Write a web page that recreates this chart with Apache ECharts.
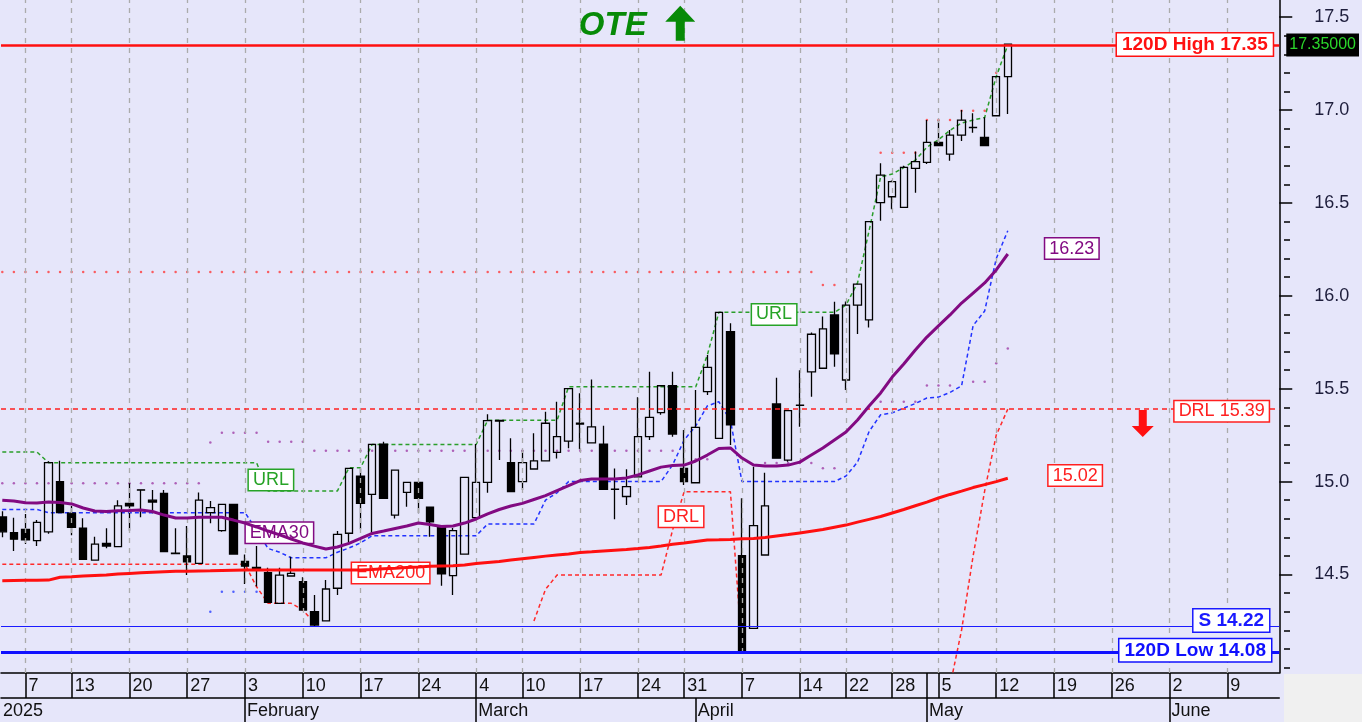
<!DOCTYPE html>
<html><head><meta charset="utf-8">
<script src="https://cdn.jsdelivr.net/npm/echarts@6/dist/echarts.min.js"></script>
<style>html,body{margin:0;padding:0;background:#E6E6FA;}#c{width:1362px;height:722px;}</style>
</head><body><div id="c"></div>
<script>
// ---- trading days (2025, Athens) ----
const dates = ['01-02','01-03','01-07','01-08','01-09','01-10','01-13','01-14','01-15','01-16','01-17','01-20','01-21','01-22','01-23','01-24','01-27','01-28','01-29','01-30','01-31',
'02-03','02-04','02-05','02-06','02-07','02-10','02-11','02-12','02-13','02-14','02-17','02-18','02-19','02-20','02-21','02-24','02-25','02-26','02-27','02-28',
'03-04','03-05','03-06','03-07','03-10','03-11','03-12','03-13','03-14','03-17','03-18','03-19','03-20','03-21','03-24','03-26','03-27','03-28','03-31',
'04-01','04-02','04-03','04-04','04-07','04-08','04-09','04-10','04-11','04-14','04-15','04-16','04-17','04-22','04-23','04-24','04-25','04-28','04-29','04-30',
'05-02','05-05','05-06','05-07','05-08','05-09','05-12','05-13','05-14','05-15','05-16','05-19','05-20','05-21','05-22','05-23','05-26','05-27','05-28','05-29','05-30',
'06-02','06-03','06-04','06-05','06-06','06-09','06-10','06-11','06-12','06-13'];
const weekTicks = ['01-07','01-13','01-20','01-27','02-03','02-10','02-17','02-24','03-04','03-10','03-17','03-24','03-31','04-07','04-14','04-22','04-28','05-05','05-12','05-19','05-26','06-02','06-09'];
const monthStarts = ['02-03','03-04','04-01','05-02','06-02'];
const monthNames = ['February','March','April','May','June'];
const yearLabel = '2025';
const yTickLabels = [14.5,15.0,15.5,16.0,16.5,17.0,17.5];
const yMinorTicks = [14.0,14.1,14.2,14.3,14.4,14.6,14.7,14.8,14.9,15.1,15.2,15.3,15.4,15.6,15.7,15.8,15.9,16.1,16.2,16.3,16.4,16.6,16.7,16.8,16.9,17.1,17.2,17.3,17.4];

// ---- OHLC ----
const open = [14.81,14.725,14.743,14.682,14.73,15.0,14.83,14.749,14.578,14.668,14.65,14.883,14.956,14.90,14.937,14.615,14.6,14.56,14.833,14.736,
14.878,14.57,14.538,14.51,14.345,14.492,14.461,14.3,14.25,14.426,14.722,15.03,14.931,15.202,14.82,14.942,14.996,14.862,14.752,14.494,
14.61,14.806,14.996,15.33,15.102,15.0,15.068,15.112,15.157,15.218,15.315,15.209,15.202,14.96,14.92,15.026,15.242,15.371,15.516,15.071,
14.994,15.484,15.233,15.807,14.601,14.21,14.605,15.418,15.116,15.412,15.591,15.61,15.897,15.547,15.95,15.87,16.501,16.533,16.476,16.686,
16.718,16.826,16.762,16.865,16.907,16.853,16.969,17.18];
const close = [14.73,14.69,14.686,14.781,15.102,14.833,14.754,14.582,14.664,14.653,14.869,14.869,14.955,14.89,14.623,14.612,14.568,14.9,14.86,14.878,
14.61,14.545,14.528,14.35,14.497,14.506,14.309,14.228,14.422,14.716,15.071,14.883,15.2,14.91,15.062,14.996,14.91,14.784,14.503,14.736,
15.023,14.996,15.328,15.326,14.946,15.102,15.112,15.314,15.242,15.5,15.31,15.295,14.958,14.958,14.973,15.242,15.346,15.516,15.256,15.0,
15.292,15.615,15.911,15.305,14.09,14.763,14.869,15.126,15.382,15.41,15.793,15.822,15.687,15.95,16.063,16.399,16.65,16.614,16.691,16.722,
16.826,16.808,16.865,16.946,16.905,16.808,17.18,17.355];
const low = [14.70,14.627,14.664,14.653,14.72,14.83,14.712,14.58,14.575,14.641,14.65,14.736,14.808,14.83,14.62,14.61,14.497,14.56,14.776,14.73,
14.61,14.449,14.435,14.35,14.345,14.49,14.309,14.22,14.25,14.39,14.671,14.743,14.725,14.91,14.802,14.865,14.83,14.703,14.44,14.39,
14.61,14.806,14.94,15.116,14.946,14.955,15.068,15.11,15.125,15.18,15.174,15.209,14.958,14.797,14.874,15.026,15.224,15.36,15.242,14.982,
14.994,15.466,15.233,15.197,14.08,14.21,14.605,15.126,15.107,15.295,15.457,15.61,15.618,15.493,15.794,15.83,16.404,16.466,16.476,16.555,
16.709,16.808,16.727,16.833,16.878,16.808,16.969,16.978];
const high = [14.84,14.806,14.826,14.793,15.11,15.112,14.869,14.803,14.703,14.749,14.9,14.991,14.958,14.955,14.955,14.749,14.761,14.942,14.896,14.88,
14.88,14.608,14.653,14.536,14.536,14.596,14.485,14.39,14.47,14.734,15.071,15.071,15.2,15.215,15.062,14.996,14.996,14.862,14.76,14.75,
15.023,15.202,15.362,15.332,15.233,15.17,15.26,15.376,15.43,15.5,15.475,15.55,15.3,15.071,15.066,15.454,15.591,15.52,15.591,15.278,
15.493,15.681,15.911,15.852,14.91,15.08,15.048,15.559,15.382,15.6,15.802,15.888,15.968,15.97,16.063,16.399,16.713,16.62,16.7,16.776,
16.946,16.946,16.892,17.0,16.982,16.961,17.18,17.355];

// ---- indicators ----
const ema30 = [14.9,14.896,14.886,14.885,14.89,14.887,14.88,14.858,14.842,14.839,14.843,14.844,14.847,14.839,14.82,14.804,14.804,14.808,14.808,14.808,
14.793,14.777,14.756,14.734,14.713,14.691,14.67,14.653,14.637,14.648,14.668,14.694,14.721,14.734,14.748,14.761,14.777,14.769,14.758,14.761,
14.777,14.799,14.826,14.85,14.869,14.883,14.904,14.925,14.952,14.979,15.006,15.014,15.014,15.014,15.02,15.036,15.057,15.078,15.087,15.089,
15.111,15.143,15.178,15.181,15.127,15.089,15.084,15.084,15.089,15.105,15.143,15.181,15.224,15.267,15.332,15.407,15.477,15.563,15.633,15.708,
15.778,15.838,15.897,15.961,16.015,16.069,16.139,16.225];
const ema200 = [14.467,14.468,14.469,14.469,14.470,14.485,14.488,14.492,14.495,14.497,14.503,14.506,14.509,14.512,14.515,14.517,14.518,14.519,14.520,14.522,
14.523,14.524,14.524,14.524,14.524,14.524,14.524,14.524,14.524,14.524,14.524,14.525,14.527,14.531,14.534,14.538,14.540,14.545,14.546,14.547,
14.551,14.559,14.565,14.570,14.578,14.585,14.592,14.599,14.605,14.611,14.618,14.622,14.627,14.631,14.635,14.640,14.646,14.653,14.663,14.670,
14.678,14.686,14.687,14.689,14.692,14.694,14.699,14.707,14.715,14.724,14.733,14.742,14.754,14.766,14.782,14.797,14.812,14.831,14.850,14.870,
14.890,14.912,14.931,14.949,14.968,14.984,15.000,15.018];
const url = [15.159,15.159,15.159,15.159,15.102,15.102,15.102,15.102,15.102,15.102,15.102,15.102,15.102,15.102,15.102,15.102,15.102,15.102,15.102,15.102,
15.102,15.102,15.102,14.95,14.95,14.95,14.95,14.95,14.95,14.95,15.075,15.075,15.2,15.2,15.2,15.2,15.2,15.2,15.2,15.2,
15.2,15.2,15.33,15.33,15.33,15.33,15.33,15.33,15.33,15.51,15.51,15.51,15.51,15.51,15.51,15.51,15.51,15.51,15.51,15.51,
15.51,15.68,15.911,15.911,15.911,15.911,15.911,15.911,15.911,15.911,15.911,15.911,15.911,15.95,16.07,16.35,16.64,16.655,16.69,16.73,
16.8,16.84,16.89,16.93,16.946,16.96,17.18,17.35];
const drl = [14.555,14.555,14.555,14.555,14.555,14.555,14.555,14.555,14.555,14.555,14.555,14.555,14.555,14.555,14.555,14.555,14.555,14.555,14.555,14.555,
14.555,14.555,14.434,14.345,14.345,14.345,14.309,14.24,null,null,null,null,null,null,null,null,null,null,null,null,
null,null,null,null,null,null,14.25,14.42,14.497,14.497,14.497,14.497,14.497,14.497,14.497,14.497,14.497,14.497,14.74,14.946,
14.946,14.946,14.946,14.946,14.1,null,null,null,null,null,null,null,null,null,null,null,null,null,null,null,
null,null,13.9,14.2,14.6,14.95,15.25,15.39];
const lowerBand = [14.85,14.85,14.85,14.85,14.833,14.833,14.833,14.833,14.833,14.833,14.833,14.833,14.833,14.833,14.833,14.833,14.833,14.833,14.833,14.833,
14.833,14.833,14.74,14.64,14.62,14.59,14.59,14.59,14.59,14.62,14.643,14.67,14.709,14.709,14.709,14.709,14.709,14.709,14.709,14.709,
14.709,14.709,14.772,14.772,14.772,14.772,14.772,14.9,14.94,15.0,15.0,15.0,15.0,15.0,15.0,15.0,15.0,15.0,15.09,15.224,
15.3,15.407,15.43,15.33,15.0,15.0,15.0,15.0,15.0,15.0,15.0,15.0,15.0,15.03,15.105,15.27,15.36,15.37,15.396,15.42,
15.45,15.455,15.48,15.515,15.84,15.918,16.2,16.35];
const purpleDots = [14.991,14.991,14.991,14.991,14.991,14.991,14.991,14.991,14.991,14.991,14.991,14.991,14.991,14.991,14.991,14.991,14.991,14.991,15.21,15.263,
15.263,15.263,15.263,15.215,15.215,15.215,15.215,15.166,15.166,15.166,15.166,15.166,15.166,15.166,15.166,15.166,15.166,15.166,15.166,15.166,
15.166,15.166,15.166,15.166,15.166,15.166,15.166,15.166,15.166,15.166,15.166,15.166,15.166,15.166,15.166,15.166,15.166,15.166,15.166,15.166,
15.12,15.12,null,null,null,null,15.1,15.1,15.1,15.1,15.1,15.072,15.072,null,null,null,15.43,15.43,15.43,15.43,
15.517,15.517,15.517,null,15.538,15.538,15.637,15.717];
const redDots = [16.128,16.128,16.128,16.128,16.128,16.128,16.128,16.128,16.128,16.128,16.128,16.128,16.128,16.128,16.128,16.128,16.128,16.128,16.128,16.128,
16.128,16.128,16.128,16.128,16.128,16.128,16.128,16.128,16.128,16.128,16.128,16.128,16.128,16.128,16.128,16.128,16.128,16.128,16.128,16.128,
16.128,16.128,16.128,16.128,16.128,16.128,16.128,16.128,16.128,16.128,16.128,16.128,16.128,16.128,16.128,16.128,16.128,16.128,16.128,16.128,
16.128,16.128,16.128,16.128,16.128,16.128,16.128,16.128,16.128,16.128,16.128,16.058,16.058,null,null,null,16.77,16.77,16.77,16.77,
16.946,16.946,16.946,16.996,16.996,16.996,17.2,null];
const blueDots = [null,null,null,null,null,null,null,null,null,null,null,null,null,null,null,null,null,null,14.3,14.407,
14.407,14.407,14.407];
const high120 = 17.35, low120 = 14.08, support = 14.22, drlLevel = 15.39, lastPrice = 17.35;

// ---- build ----
const idx = d => dates.indexOf(d);
const toXY = arr => arr.map((v,i)=>[i, v==null?'-':v]);
const candles = open.map((o,i)=>[i, o, close[i], low[i], high[i]]);
const weekIdx = weekTicks.map(idx);
const monthIdx = monthStarts.map(idx);
const X_MIN = -0.112, X_MAX = 110.49, Y_MIN = 13.970, Y_MAX = 17.592;
const FONT = 'Liberation Sans';
const PLOT_W = 1283;

function tag(coord, text, color, bold){
  return {coord, symbolSize:1, itemStyle:{color:'rgba(0,0,0,0)'},
    label:{show:true, position:'left', distance:0, formatter:text, color,
      fontFamily:FONT, fontSize: bold?19:18, fontWeight: bold?'bold':'normal', lineHeight: bold?19:18,
      backgroundColor:'#fff', borderColor:color, borderWidth:1.5, padding: bold?[2,5,1,5]:[1,4,1,4]}};
}

const chart = echarts.init(document.getElementById('c'));
chart.setOption({
  animation:false,
  backgroundColor:'#E6E6FA',
  textStyle:{fontFamily:FONT},
  grid:{left:0, top:0, width:PLOT_W, height:673},
  xAxis:[{
    type:'value', min:X_MIN, max:X_MAX, position:'bottom',
    axisLine:{show:true, onZero:false, lineStyle:{color:'#000', width:1.5}},
    axisTick:{show:true, customValues: weekIdx.concat([idx('05-02')]), length:25, lineStyle:{color:'#000', width:1.5}},
    axisLabel:{customValues: weekIdx, formatter: v => String(parseInt(dates[Math.round(v)].slice(3),10)),
      align:'left', padding:[0,0,0,3], margin:4, fontSize:18, color:'#111', fontFamily:FONT},
    splitLine:{show:false}
  },{
    type:'value', min:X_MIN, max:X_MAX, position:'bottom', offset:25,
    axisLine:{show:true, onZero:false, lineStyle:{color:'#000', width:1.5}},
    axisTick:{show:true, customValues: monthIdx, length:24, lineStyle:{color:'#000', width:1.5}},
    axisLabel:{customValues:[X_MIN].concat(monthIdx), formatter: v => { const k = monthIdx.indexOf(v); return k<0 ? yearLabel : monthNames[k]; },
      align:'left', padding:[0,0,0,2], margin:4, fontSize:18, color:'#111', fontFamily:FONT},
    splitLine:{show:false}
  }],
  yAxis:[{
    type:'value', min:Y_MIN, max:Y_MAX, position:'right',
    axisLine:{show:true, onZero:false, lineStyle:{color:'#000', width:1.5}},
    axisTick:{show:true, customValues: yTickLabels, length:13, lineStyle:{color:'#000', width:1.5}},
    axisLabel:{customValues: yTickLabels, formatter: v => v.toFixed(1), margin:35, fontSize:18, color:'#1e1e3c', fontFamily:FONT},
    splitLine:{show:false}
  },{
    // minor ticks: a left-side axis shifted onto the right edge, ticks pointing right
    type:'value', min:Y_MIN, max:Y_MAX, position:'left', offset:-PLOT_W,
    axisLine:{show:false, onZero:false},
    axisTick:{show:true, inside:true, customValues: yMinorTicks, length:6, lineStyle:{color:'#000', width:1.5}},
    axisLabel:{show:false}, splitLine:{show:false}
  },{
    type:'value', min:Y_MIN, max:Y_MAX, position:'right', offset:0,
    axisLine:{show:false, onZero:false}, axisTick:{show:false}, splitLine:{show:false},
    axisLabel:{customValues:[lastPrice], formatter: v => v.toFixed(5), margin:7, fontSize:16, color:'#2bd62b',
      backgroundColor:'#000', padding:[4,3,3,3], fontFamily:FONT}
  }],
  series:[
    {type:'line', data:[], z:1, silent:true,
     markLine:{silent:true, symbol:'none', label:{show:false},
       lineStyle:{type:[5,5], color:'#ababab', width:1.3},
       data: weekIdx.map(v=>({xAxis:v}))}},
    {type:'line', data:[], z:2, silent:true,
     markLine:{silent:true, symbol:'none', label:{show:false},
       data:[
         {yAxis:drlLevel, lineStyle:{type:[5,4], color:'#ff2020', width:1.5}},
         {yAxis:high120, lineStyle:{type:'solid', color:'#ff1010', width:2.5}},
         {yAxis:support, lineStyle:{type:'solid', color:'#1a1aff', width:1.2}},
         {yAxis:low120, lineStyle:{type:'solid', color:'#1010ff', width:3}}
       ]}},
    {name:'redDots', type:'scatter', data:toXY(redDots), symbolSize:2.5, itemStyle:{color:'#ff3a3a'}, z:3},
    {name:'purpleDots', type:'scatter', data:toXY(purpleDots), symbolSize:2.5, itemStyle:{color:'#a040a8'}, z:3},
    {name:'blueDots', type:'scatter', data:toXY(blueDots), symbolSize:2.5, itemStyle:{color:'#2a40ff'}, z:3},
    {name:'URL', type:'line', data:toXY(url), showSymbol:false, z:3, lineStyle:{color:'#2a9e2a', width:1.5, type:[4,3]}},
    {name:'DRL', type:'line', data:toXY(drl), showSymbol:false, z:3, lineStyle:{color:'#ff2a2a', width:1.5, type:[4,3]}},
    {name:'lower', type:'line', data:toXY(lowerBand), showSymbol:false, z:3, lineStyle:{color:'#2233ff', width:1.5, type:[4,3]}},
    {name:'candles', type:'candlestick', data:candles, dimensions:['i','open','close','low','high'],
     encode:{x:0, y:[1,2,3,4]}, barWidth:8, z:4,
     itemStyle:{color:'rgba(0,0,0,0)', color0:'#000', borderColor:'#000', borderColor0:'#000', borderColorDoji:'#000', borderWidth:1.3}},
    {name:'EMA200', type:'line', data:toXY(ema200), showSymbol:false, z:5, lineStyle:{color:'#ff1010', width:3}},
    {name:'EMA30', type:'line', data:toXY(ema30), showSymbol:false, z:5, lineStyle:{color:'#820a82', width:3}},
    {type:'scatter', data:[], z:10, silent:true,
     markPoint:{silent:true, data:[
       tag([109.95, high120], '120D High 17.35', '#ff1010', true),
       tag([109.6, 15.376], 'DRL 15.39', '#ff2020', false),
       tag([109.63, 14.25], 'S 14.22', '#1a1aff', true),
       tag([109.8, 14.09], '120D Low 14.08', '#1010ff', true),
       tag([94.86, 16.252], '16.23', '#820a82', false),
       tag([95.15, 15.03], '15.02', '#ff2020', false),
       tag([25.17, 15.006], 'URL', '#27a327', false),
       tag([68.71, 15.897], 'URL', '#27a327', false),
       tag([26.9, 14.722], 'EMA30', '#820a82', false),
       tag([36.96, 14.506], 'EMA200', '#ff2020', false),
       tag([60.66, 14.809], 'DRL', '#ff2020', false),
       {coord:[52.82, 17.452], symbolSize:1, itemStyle:{color:'rgba(0,0,0,0)'},
        label:{show:true, position:'inside', formatter:'OTE', fontSize:33, fontWeight:'bold', fontStyle:'italic', color:'#078a07', fontFamily:FONT}},
       {coord:[58.66, 17.467], symbol:'path://M15,0 L30,16 L19.5,16 L19.5,35 L10.5,35 L10.5,16 L0,16 Z', symbolSize:[30,35],
        itemStyle:{color:'#078a07'}, label:{show:false}},
       {coord:[98.68, 15.313], symbol:'path://M7,0 L15,0 L15,16 L22,16 L11,27 L0,16 L7,16 Z', symbolSize:[22,27],
        itemStyle:{color:'#ff1010'}, label:{show:false}}
     ]}}
  ],
  graphic:[{type:'rect', left:1284, top:674, shape:{width:78, height:48}, style:{fill:'#F0F0F0'}, z:100}]
});
</script></body></html>
